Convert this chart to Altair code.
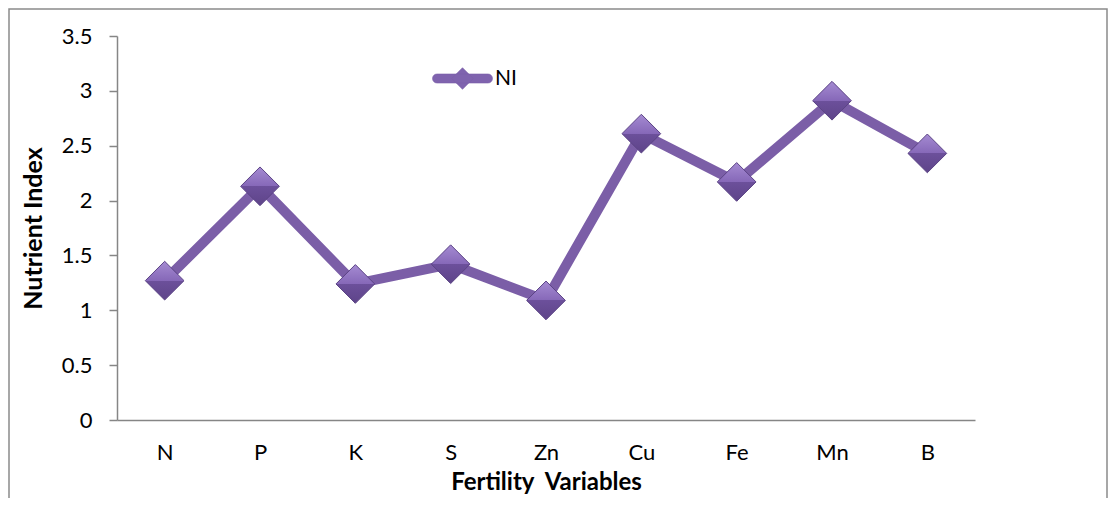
import altair as alt
import pandas as pd

categories = ["N", "P", "K", "S", "Zn", "Cu", "Fe", "Mn", "B"]
values = [1.27, 2.13, 1.24, 1.42, 1.09, 2.61, 2.17, 2.91, 2.43]
series = ["NI"] * len(categories)
y_ticks = [0, 0.5, 1, 1.5, 2, 2.5, 3, 3.5]

df = pd.DataFrame({"var": categories, "NI": values, "series": series})

LINE = "#7B5EA7"
FILL = "#7F63AE"
EDGE = "#5B4385"
FONT = "Lato"

legend_path = ("M-0.85,-0.15L0.85,-0.15A0.15,0.15 0 0 1 0.85,0.15"
               "L-0.85,0.15A0.15,0.15 0 0 1 -0.85,-0.15Z "
               "M-0.36,0L0,-0.36L0.36,0L0,0.36Z")

diamond_fill = alt.LinearGradient(
    gradient="linear", x1=0, x2=0, y1=0, y2=1,
    stops=[alt.GradientStop(color="#A58BD2", offset=0),
           alt.GradientStop(color="#8668B8", offset=0.5),
           alt.GradientStop(color="#6C509B", offset=0.5),
           alt.GradientStop(color="#5E4489", offset=1)])

x = alt.X("var:N", sort=categories,
          scale=alt.Scale(type="point", padding=0.5),
          axis=alt.Axis(title="Fertility\u00a0 Variables", labelAngle=0, ticks=False,
                        domainColor="#868686", domainWidth=1.5,
                        labelPadding=22, labelFontSize=22, labelColor="black",
                        labelFont=FONT, titleFont=FONT, titleFontSize=24,
                        titleFontWeight="bold", titleColor="black", titlePadding=7))
y = alt.Y("NI:Q", scale=alt.Scale(domain=[0, 3.5], nice=False),
          axis=alt.Axis(title="Nutrient Index", values=y_ticks, format="~g", grid=False,
                        domainColor="#868686", domainWidth=1.5, tickColor="#868686",
                        tickSize=8, tickWidth=1.5, labelPadding=17, labelFontSize=22,
                        labelColor="black", labelFont=FONT, titleFont=FONT,
                        titleFontSize=25, titleFontWeight="bold", titleColor="black",
                        titlePadding=15))

base = alt.Chart(df)

line = base.mark_line(strokeWidth=10, strokeJoin="round", strokeCap="round").encode(
    x=x, y=y,
    color=alt.Color("series:N", scale=alt.Scale(range=[LINE]),
                    legend=alt.Legend(title=None, orient="none", legendX=315, legendY=12,
                                      padding=0, symbolType=legend_path, symbolSize=3600,
                                      symbolFillColor=FILL, symbolStrokeColor=EDGE,
                                      symbolStrokeWidth=0.6, symbolOpacity=1,
                                      labelFont=FONT, labelFontSize=21,
                                      labelColor="black", labelOffset=2)))

points = base.mark_point(filled=True, shape="diamond", size=1500, fill=diamond_fill,
                         stroke=EDGE, strokeWidth=1, opacity=1).encode(x=x, y=y)

border = alt.Chart(pd.DataFrame({"a": [0]})).mark_rect(
    fillOpacity=0, stroke="#8a8a8a", strokeWidth=1.5).encode(
    x=alt.value(-108), x2=alt.value(990), y=alt.value(-27), y2=alt.value(520))

chart = alt.layer(border, line, points).properties(
    width=858, height=384,
    background="white",
    autosize=alt.AutoSizeParams(type="none"),
    padding={"left": 109, "top": 28, "right": 134, "bottom": 78},
).configure_view(strokeWidth=0)

chart.save("out.html", embed_options={"renderer": "svg", "actions": False})
